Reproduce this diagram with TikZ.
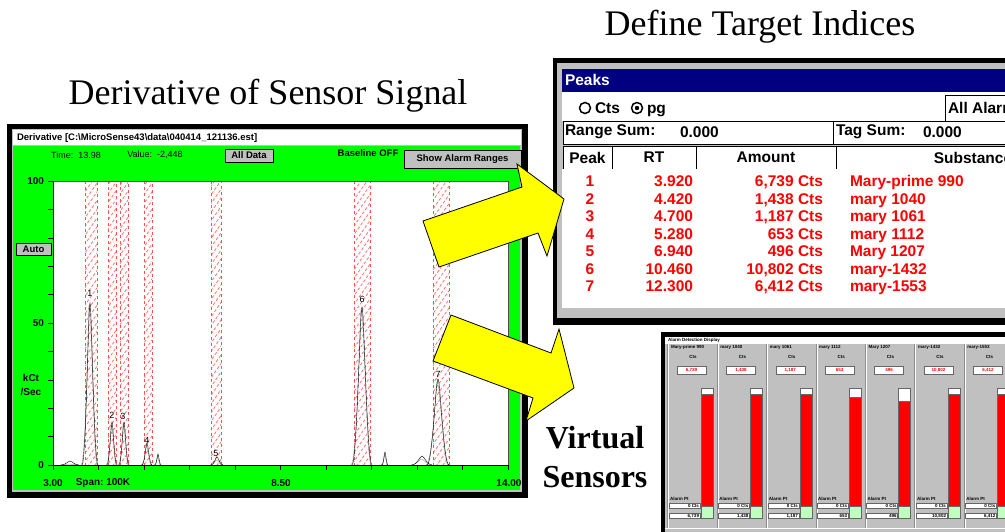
\documentclass[tikz,border=0pt]{standalone}
\usepackage{fontspec}
\setmainfont{Liberation Serif}
\setsansfont{Liberation Sans}
\usetikzlibrary{patterns.meta}

\definecolor{wingray}{RGB}{192,192,192}
\definecolor{winnavy}{RGB}{0,0,128}
\definecolor{scrgreen}{RGB}{0,255,0}
\definecolor{arrowyellow}{RGB}{255,255,0}
\definecolor{hatchred}{RGB}{255,80,80}

% one peak of the signal: centre x, top y, half width
\newcommand{\sigpeak}[3]{%
  \draw[black!40] (#1-#3-1,465) .. controls (#1-#3/2,465) and (#1-#3/5,#2+3) .. (#1-1,#2+3)
    .. controls (#1+#3/5,#2+3) and (#1+#3/2,465) .. (#1+#3-1,465);
  \draw[black] (#1-#3,465) .. controls (#1-#3/2,465) and (#1-#3/5,#2) .. (#1,#2)
    .. controls (#1+#3/5,#2) and (#1+#3/2,465) .. (#1+#3,465);
}

\begin{document}
\begin{tikzpicture}[
x=1pt, y=-1pt,
every node/.style={inner sep=0pt, outer sep=0pt},
heading/.style={font=\fontsize{36}{40}\selectfont},
bighead/.style={font=\bfseries\fontsize{32}{36}\selectfont},
ui/.style={font=\sffamily\fontsize{9}{11}\selectfont},
uib/.style={font=\sffamily\bfseries\fontsize{9.5}{11}\selectfont},
axis/.style={font=\sffamily\bfseries\fontsize{10}{12}\selectfont},
btn/.style={
	uib,
	draw=black,
	fill=wingray,
	anchor=north west
},
band/.style={
	draw=hatchred,
	dashed,
	pattern={Lines[angle=55,distance=5pt,line width=0.8pt]},
	pattern color=hatchred!80
},
tab/.style={font=\sffamily\bfseries\fontsize{15.5}{18}\selectfont},
cell/.style={
	tab,
	draw=black,
	fill=white,
	anchor=north west,
	minimum height=23pt
},
peakrow/.style={tab, text=red},
tiny/.style={font=\sffamily\bfseries\fontsize{4.5}{5}\selectfont},
bigarrow/.style={
	fill=arrowyellow,
	draw=black,
	line width=0.8pt,
	line join=miter
}
]
\useasboundingbox (0,0) rectangle (1005,531);
\clip (0,0) rectangle (1005,531);
\fill[white] (0,0) rectangle (1005,531);

% Headings
\node[heading, anchor=base] (deriv heading) at (268,104) {Derivative of Sensor Signal};
\node[heading, anchor=base] (target heading) at (760,35) {Define Target Indices};

% Derivative window
\fill[black] (7,124) rectangle (528,498);
\fill[wingray] (12,129) rectangle (522,492);
\fill[white] (13,130) rectangle (521,145);
\fill[scrgreen] (13,146) rectangle (520,490);
\node[uib, anchor=west] (deriv title) at (17,138)
	{Derivative [C:\textbackslash MicroSense43\textbackslash data\textbackslash 040414\_121136.est]};
\node[ui] (time) at (76,155) {Time:\ \ 13.98};
\node[ui] (value) at (155,155) {Value:\ \ -2,448};
\node[btn, minimum width=48pt, minimum height=13pt] (all data) at (225,149) {All Data};
\node[uib] (baseline) at (368,153) {Baseline OFF};
\node[btn, minimum width=117pt, minimum height=18pt] (alarm ranges) at (404,150) {Show Alarm Ranges};
\node[btn, minimum width=35pt, minimum height=12pt] (auto) at (16,243) {Auto};

% Plot
\fill[white] (53,181) rectangle (508,465);
\draw[band] (85,181) rectangle (97,465);
\draw[band] (108,181) rectangle (116,465);
\draw[band] (120,181) rectangle (128,465);
\draw[band] (144,181) rectangle (152,465);
\draw[band] (211,181) rectangle (221,465);
\draw[band] (354,181) rectangle (370,465);
\draw[band] (433,181) rectangle (449,465);
\sigpeak{70}{461}{9}
\sigpeak{90}{303}{8}
\sigpeak{112}{422}{5}
\sigpeak{124}{422}{5}
\sigpeak{147}{443}{5}
\sigpeak{158}{454}{3}
\sigpeak{217}{457}{6}
\sigpeak{362}{307}{10}
\sigpeak{385}{452}{3}
\sigpeak{422}{456}{10}
\sigpeak{438}{379}{11}
\draw[black!70] (53,181) rectangle (508,465);
\draw[black] (53,181) -- (53,465) -- (508,465);
\foreach \k in {0,...,10} \draw (53+45.5*\k,465) -- ++(0,5);
\foreach \k in {0,...,10} \draw (53,181+28.4*\k) -- ++(-5,0);

% Peak numbers
\node[ui] (lab 1) at (90,293) {1};
\node[ui] (lab 2) at (112,415) {2};
\node[ui] (lab 3) at (123,416) {3};
\node[ui] (lab 4) at (147,440) {4};
\node[ui] (lab 5) at (216,453) {5};
\node[ui] (lab 6) at (362,299) {6};
\node[ui] (lab 7) at (438,374) {7};

% Axes labels
\node[axis, anchor=east] (y 100) at (44,181) {100};
\node[axis, anchor=east] (y 50) at (44,323) {50};
\node[axis, anchor=east] (y 0) at (44,465) {0};
\node[axis] (kct) at (31,378) {kCt};
\node[axis] (per sec) at (31,392) {/Sec};
\node[axis] (x 3) at (53,483) {3.00};
\node[axis] (span) at (103,483) {Span:\ 100K};
\node[axis] (x 85) at (281,483) {8.50};
\node[axis] (x 14) at (509,483) {14.00};

% Peaks window
\fill[black] (553,58) rectangle (1010,325);
\fill[wingray] (557,63) rectangle (1010,318);
\fill[winnavy] (562,69) rectangle (1010,92);
\node[tab, text=white, anchor=west] (peaks title) at (565,80) {Peaks};
\fill[white] (562,92) rectangle (1010,121);
\draw[line width=1.5pt] (585,108) circle (5.5);
\node[tab, anchor=base west] (cts) at (595,113.5) {Cts};
\draw[line width=1.5pt] (637,108) circle (5.5);
\fill (637,108) circle (2.2);
\node[tab, anchor=base west] (pg) at (647,113.5) {pg};
\draw[fill=white] (945,95) rectangle (1015,121);
\node[tab, anchor=west] (all alarm) at (948,108) {All Alarm};
\draw[fill=white] (563,121) rectangle (833,144);
\draw[fill=white] (833,121) rectangle (1015,144);
\node[tab, anchor=west] (range sum) at (565,132) {Range Sum:};
\node[tab, anchor=west] (range val) at (680,132) {0.000};
\node[tab, anchor=west] (tag sum) at (836,132) {Tag Sum:};
\node[tab, anchor=west] (tag val) at (923,132) {0.000};
\node[cell, minimum width=49pt] (head peak) at (563,146) {Peak};
\node[cell, minimum width=84pt] (head rt) at (612,146) {RT};
\node[cell, minimum width=140pt] (head amount) at (696,146) {Amount};
\node[cell, minimum width=274pt] (head substance) at (836,146) {Substance};
\fill[white] (562,169) rectangle (1010,308);
\foreach \pk/\rt/\amt/\sub in {1/3.920/{6,739}/Mary-prime 990, 2/4.420/{1,438}/mary 1040,
	3/4.700/{1,187}/mary 1061, 4/5.280/653/mary 1112, 5/6.940/496/Mary 1207,
	6/10.460/{10,802}/mary-1432, 7/12.300/{6,412}/mary-1553} {
	\pgfmathsetmacro\ry{186.5+17.5*(\pk-1)}
	\node[peakrow, anchor=base] (pk \pk) at (590,\ry) {\pk};
	\node[peakrow, anchor=base east] (rt \pk) at (693,\ry) {\rt};
	\node[peakrow, anchor=base east] (amt \pk) at (823,\ry) {\amt\ Cts};
	\node[peakrow, anchor=base west] (sub \pk) at (850,\ry) {\sub};
}

% Alarm detection display
\fill[black] (661,332) rectangle (1010,535);
\fill[wingray] (665,337) rectangle (1010,535);
\fill[white] (665,337) rectangle (1010,344);
\node[tiny, anchor=west] (alarm title) at (668,340.5) {Alarm Detection Display};
\foreach \nm/\val/\bartop [count=\i from 0] in {Mary-prime 990/{6,739}/394, mary 1040/{1,438}/394,
	mary 1061/{1,187}/394, mary 1112/653/397, Mary 1207/496/401,
	mary-1432/{10,802}/394, mary-1553/{6,412}/394} {
	\pgfmathsetmacro\px{668+49.4*\i}
	\draw[black!45] (\px-0.5,344) -- ++(0,184);
	\draw[white] (\px+0.5,344) -- ++(0,184);
	\node[tiny, anchor=west] (name \i) at (\px+3,347.5) {\nm};
	\node[tiny] (cts \i) at (\px+25,357) {Cts};
	\filldraw[fill=white, draw=black!60] (\px+9,366) rectangle (\px+38,374);
	\node[tiny, text=red] (val \i) at (\px+23.5,370) {\val};
	\filldraw[fill=white, draw=black!60] (\px+33,388) rectangle (\px+45,\bartop);
	\filldraw[fill=red, draw=black!60] (\px+33,\bartop) rectangle (\px+45,506);
	\filldraw[fill=green!25, draw=black!60] (\px+33,506) rectangle (\px+45,518);
	\node[tiny, anchor=west] (apt \i) at (\px+2,499) {Alarm Pt};
	\filldraw[fill=white, draw=black!60] (\px+1,503) rectangle (\px+32,508.5);
	\node[tiny, anchor=east] (pt \i) at (\px+31,505.8) {0 Cts};
	\filldraw[fill=white, draw=black!60] (\px+1,513) rectangle (\px+32,518.5);
	\node[tiny, anchor=east] (cur \i) at (\px+31,515.8) {\val};
}
\draw[white] (665,528) -- (1010,528);

% Arrows
\filldraw[bigarrow] (423,221) -- (522,187) -- (517,164) -- (564,199) -- (547,256) -- (538,233) -- (439,267) -- cycle;
\filldraw[bigarrow] (451,315) -- (551,353) -- (559,329) -- (574,388) -- (526,421) -- (533,398) -- (433,361) -- cycle;

% Virtual sensors
\node[bighead, anchor=base] (virtual) at (595,448) {Virtual};
\node[bighead, anchor=base] (sensors) at (595,487) {Sensors};

\end{tikzpicture}
\end{document}
